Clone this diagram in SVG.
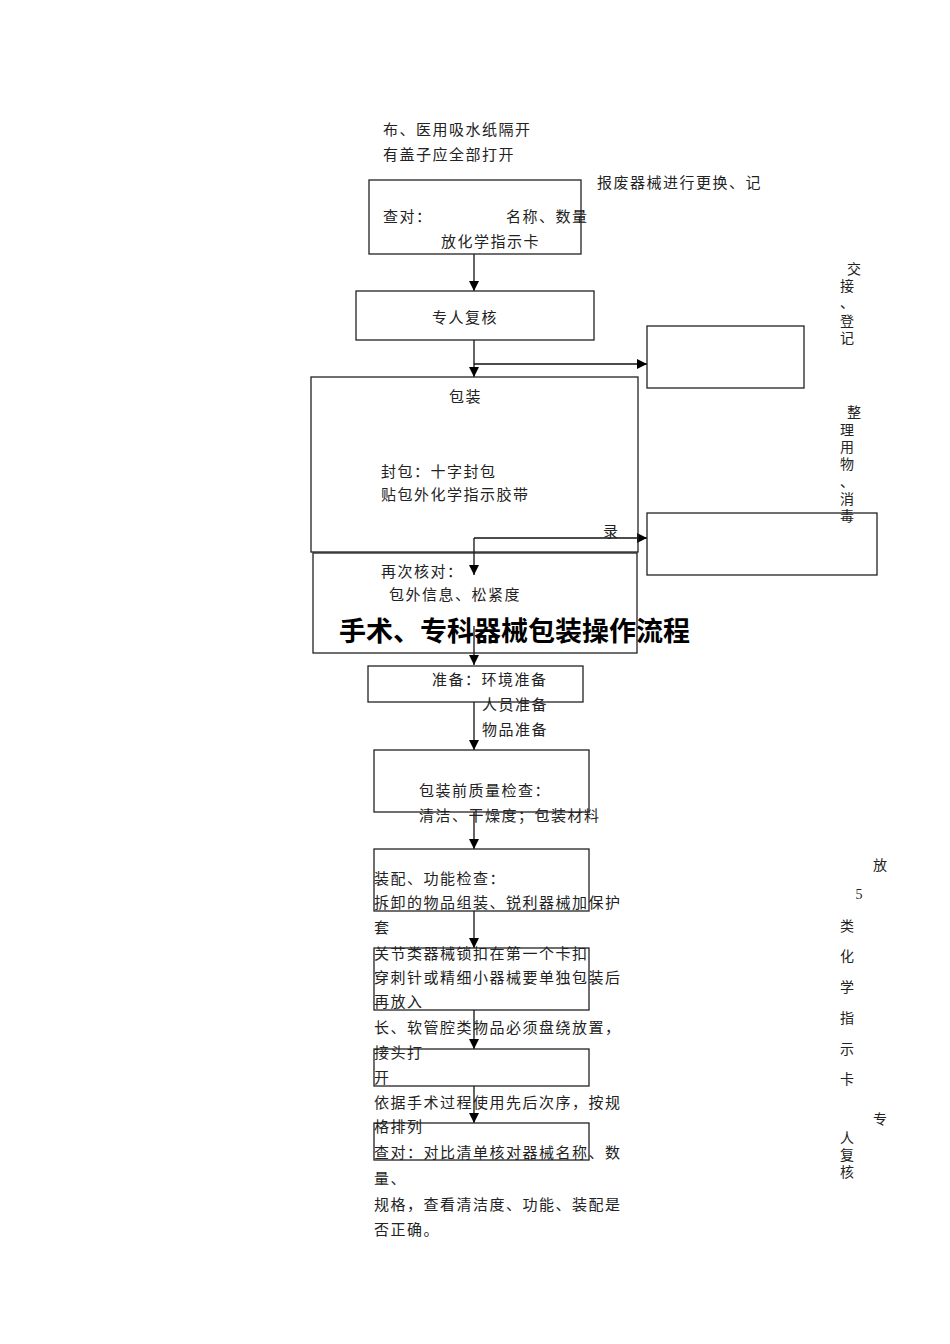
<svg xmlns="http://www.w3.org/2000/svg" width="950" height="1344" viewBox="0 0 950 1344">
<style>
text{font-family:"Noto Sans CJK SC","Noto Sans",sans-serif;font-size:15px;fill:#222;dominant-baseline:central;letter-spacing:1.5px}
.box{fill:none;stroke:#222;stroke-width:1.3}
.ln{fill:none;stroke:#111;stroke-width:1.3}
.title{font-size:27px;font-weight:bold;fill:#000;letter-spacing:0}
.v{text-anchor:middle;letter-spacing:0;font-size:14px}
</style>
<defs>
<marker id="ah" markerUnits="userSpaceOnUse" markerWidth="10" markerHeight="10" refX="10" refY="5" orient="auto" viewBox="0 0 10 10">
<path d="M0,0 L10,5 L0,10 z" fill="#000"/>
</marker>
</defs>
<rect width="950" height="1344" fill="#fff"/>

<g id="connectors">
<line class="ln" x1="474" y1="254" x2="474" y2="291" marker-end="url(#ah)"/>
<line class="ln" x1="474" y1="340" x2="474" y2="377" marker-end="url(#ah)"/>
<line class="ln" x1="474" y1="364" x2="647" y2="364" marker-end="url(#ah)"/>
<line class="ln" x1="474" y1="538" x2="647" y2="538" marker-end="url(#ah)"/>
<line class="ln" x1="474" y1="538" x2="474" y2="575" marker-end="url(#ah)"/>
<line class="ln" x1="474" y1="626" x2="474" y2="665" marker-end="url(#ah)"/>
<line class="ln" x1="474" y1="702" x2="474" y2="750" marker-end="url(#ah)"/>
<line class="ln" x1="474" y1="812" x2="474" y2="849" marker-end="url(#ah)"/>
<line class="ln" x1="474" y1="911" x2="474" y2="948" marker-end="url(#ah)"/>
<line class="ln" x1="474" y1="1010" x2="474" y2="1049" marker-end="url(#ah)"/>
<line class="ln" x1="474" y1="1086" x2="474" y2="1123" marker-end="url(#ah)"/>
</g>

<g id="top-notes">
<text x="383" y="128">布、医用吸水纸隔开</text>
<text x="383" y="153">有盖子应全部打开</text>
<text x="597" y="181">报废器械进行更换、记</text>
</g>

<g id="node-check1">
<rect class="box" x="369" y="180" width="212" height="74"/>
<text x="383" y="215">查对：</text>
<text x="506" y="215">名称、数量</text>
<text x="441" y="240">放化学指示卡</text>
</g>

<g id="node-review">
<rect class="box" x="356" y="291" width="238" height="49"/>
<text x="432" y="316">专人复核</text>
</g>

<g id="node-right1">
<rect class="box" x="647" y="326" width="157" height="62"/>
</g>

<g id="node-pack">
<rect class="box" x="311" y="377" width="327" height="175"/>
<text x="449" y="395">包装</text>
<text x="381" y="470">封包：十字封包</text>
<text x="381" y="493">贴包外化学指示胶带</text>
<text x="603" y="530">录</text>
</g>

<g id="node-recheck">
<rect class="box" x="313" y="553" width="324" height="100"/>
<text x="381" y="570">再次核对：</text>
<text x="389" y="593">包外信息、松紧度</text>
</g>

<g id="node-right2">
<rect class="box" x="647" y="513" width="230" height="62"/>
</g>

<g id="title">
<text class="title" x="339" y="629">手术、专科器械包装操作流程</text>
</g>

<g id="node-prepare">
<rect class="box" x="368" y="666" width="215" height="36"/>
<text x="432" y="678">准备：环境准备</text>
<text x="482" y="703">人员准备</text>
<text x="482" y="728">物品准备</text>
</g>

<g id="node-quality">
<rect class="box" x="374" y="750" width="215" height="62"/>
<text x="419" y="789">包装前质量检查：</text>
<text x="419" y="814">清洁、干燥度；包装材料</text>
</g>

<g id="node-assembly">
<rect class="box" x="374" y="849" width="215" height="62"/>
<text x="374" y="877">装配、功能检查：</text>
<text x="374" y="901">拆卸的物品组装、锐利器械加保护</text>
<text x="374" y="926">套</text>
</g>

<g id="node-joint">
<rect class="box" x="374" y="948" width="215" height="62"/>
<text x="374" y="952">关节类器械锁扣在第一个卡扣</text>
<text x="374" y="976">穿刺针或精细小器械要单独包装后</text>
<text x="374" y="1000">再放入</text>
</g>

<g id="node-tube">
<rect class="box" x="374" y="1049" width="215" height="37"/>
<text x="374" y="1026">长、软管腔类物品必须盘绕放置，</text>
<text x="374" y="1051">接头打</text>
<text x="374" y="1076">开</text>
</g>

<g id="node-final">
<rect class="box" x="374" y="1123" width="215" height="37"/>
<text x="374" y="1101">依据手术过程使用先后次序，按规</text>
<text x="374" y="1125">格排列</text>
<text x="374" y="1151">查对：对比清单核对器械名称、数</text>
<text x="374" y="1177">量、</text>
<text x="374" y="1203">规格，查看清洁度、功能、装配是</text>
<text x="374" y="1228">否正确。</text>
</g>

<g id="side-handover">
<text class="v" x="854" y="268">交</text>
<text class="v" x="847" y="285">接</text>
<text class="v" x="847" y="302">、</text>
<text class="v" x="847" y="320">登</text>
<text class="v" x="847" y="337">记</text>
</g>

<g id="side-tidy">
<text class="v" x="854" y="411">整</text>
<text class="v" x="847" y="429">理</text>
<text class="v" x="847" y="446">用</text>
<text class="v" x="847" y="463">物</text>
<text class="v" x="847" y="481">、</text>
<text class="v" x="847" y="498">消</text>
<text class="v" x="847" y="515">毒</text>
</g>

<g id="side-indicator">
<text class="v" x="880" y="864">放</text>
<text class="v" x="859" y="894" style="font-family:'Liberation Serif',serif">5</text>
<text class="v" x="847" y="925">类</text>
<text class="v" x="847" y="955">化</text>
<text class="v" x="847" y="986">学</text>
<text class="v" x="847" y="1017">指</text>
<text class="v" x="847" y="1048">示</text>
<text class="v" x="847" y="1078">卡</text>
<text class="v" x="880" y="1118">专</text>
<text class="v" x="847" y="1137">人</text>
<text class="v" x="847" y="1154">复</text>
<text class="v" x="847" y="1171">核</text>
</g>
</svg>
